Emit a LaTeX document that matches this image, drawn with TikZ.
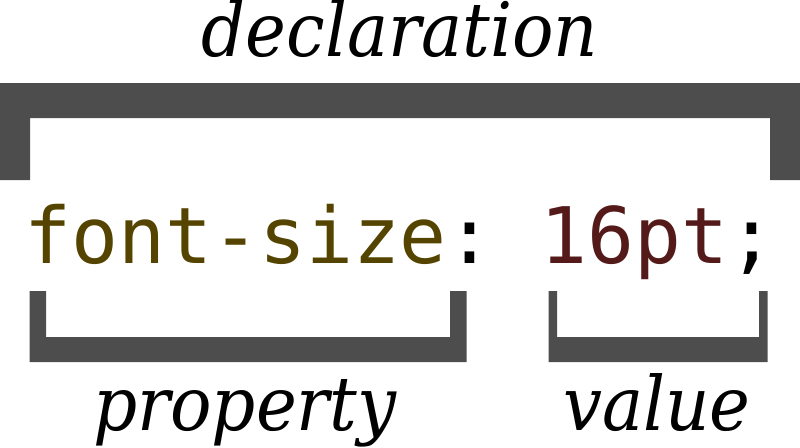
\documentclass[tikz,border=0pt]{standalone}
\usepackage{fontspec}
\setmainfont{DejaVu Serif}
\newfontfamily\labelfont[FakeStretch=0.92]{DejaVu Serif}
\newfontfamily\codefont{DejaVu Sans Mono}
\definecolor{bracketgray}{HTML}{4D4D4D}
\definecolor{propcolor}{HTML}{554400}
\definecolor{valcolor}{HTML}{541919}
\tikzset{
  bracket/.style={fill=bracketgray, draw=none},
  label/.style={inner sep=0pt, anchor=base, font=\labelfont\fontsize{75}{88}\selectfont\itshape},
  code/.style={inner sep=0pt, anchor=base, font=\codefont\fontsize{78}{90}\selectfont},
}
\begin{document}
\begin{tikzpicture}[x=1pt, y=-1pt]
  \useasboundingbox (0,0) rectangle (800,447);
  % declaration bracket (opening downwards)
  \fill[bracket] (0,83) -- (800,83) -- (800,180) -- (770,180) -- (770,118)
    -- (30,118) -- (30,180) -- (0,180) -- cycle;
  % property bracket (opening upwards)
  \fill[bracket] (29.5,291) -- (46,291) -- (46,337) -- (450,337) -- (450,291)
    -- (466.5,291) -- (466.5,362) -- (29.5,362) -- cycle;
  % value bracket (opening upwards)
  \fill[bracket] (548.5,291) -- (557,291) -- (557,337) -- (759,337) -- (759,291)
    -- (767.5,291) -- (767.5,362) -- (548.5,362) -- cycle;
  % labels
  \node[label] (decl) at (400,56) {declaration};
  \node[code] (rule) at (400,263)
    {\textcolor{propcolor}{font-size}:\ \textcolor{valcolor}{16pt};};
  \node[label] (prop) at (245,430) {property};
  \node[label] (val) at (657,430) {value};
\end{tikzpicture}
\end{document}
